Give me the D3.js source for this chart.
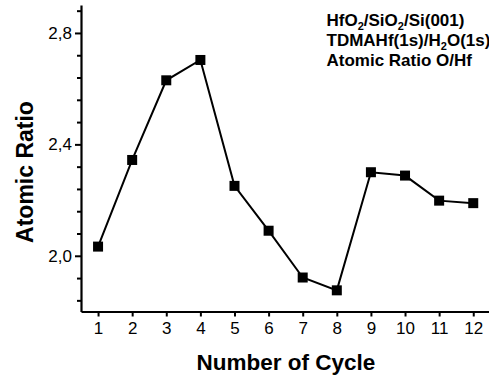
<!DOCTYPE html>
<html>
<head>
<meta charset="utf-8">
<script src="https://cdn.jsdelivr.net/npm/d3@7"></script>
<style>
  html, body { margin: 0; padding: 0; background: #fff; }
  svg { display: block; font-family: "Liberation Sans", Arial, sans-serif; }
</style>
</head>
<body>
<svg id="chart" width="489" height="378"></svg>
<script>
// O/Hf atomic ratio per ALD cycle
const cycles = [1, 2, 3, 4, 5, 6, 7, 8, 9, 10, 11, 12];
const ratios = [2.033, 2.344, 2.630, 2.703, 2.251, 2.090, 1.922, 1.876, 2.300, 2.288, 2.198, 2.189];
const yMajorTicks = [2.0, 2.4, 2.8];
const yTickLabels = ["2,0", "2,4", "2,8"];
// legend lines: [text, isSubscript]
const legendLines = [
  [["HfO", false], ["2", true], ["/SiO", false], ["2", true], ["/Si(001)", false]],
  [["TDMAHf(1s)/H", false], ["2", true], ["O(1s)", false]],
  [["Atomic Ratio O/Hf", false]]
];

const svg = d3.select("#chart");
const axisX = 81, axisY = 311.5;

const x = d3.scaleLinear().domain([0.5, 12.5]).range([axisX, 490.3]);
const y = d3.scaleLinear().domain([1.8, 2.9]).range([axisY, 5.1]);

// y axis: major ticks every 0.4, minor every 0.08
const yMinor = d3.range(1.84, 2.9, 0.08).map(v => +v.toFixed(2))
  .filter(v => !yMajorTicks.some(m => Math.abs(m - v) < 1e-6));

const yAxis = d3.axisLeft(y).tickValues(yMajorTicks)
  .tickFormat((d, i) => yTickLabels[i]).tickSize(6).tickSizeOuter(0).tickPadding(3);
const gy = svg.append("g").attr("transform", `translate(${axisX},0)`).call(yAxis);
gy.selectAll(".tick line").attr("stroke-width", 2);
gy.selectAll(".tick text").attr("font-size", 17).attr("fill", "#000")
  .attr("font-family", "Liberation Sans, Arial, sans-serif");
gy.select(".domain").attr("stroke-width", 2.2);

const gyMinor = svg.append("g").attr("transform", `translate(${axisX},0)`)
  .call(d3.axisLeft(y).tickValues(yMinor).tickFormat("").tickSize(4).tickSizeOuter(0));
gyMinor.select(".domain").remove();
gyMinor.selectAll(".tick line").attr("stroke-width", 2);

// x axis
const xAxis = d3.axisBottom(x).tickValues(cycles).tickFormat(d3.format("d"))
  .tickSize(5).tickSizeOuter(0).tickPadding(5);
const gx = svg.append("g").attr("transform", `translate(0,${axisY})`).call(xAxis);
gx.selectAll(".tick line").attr("stroke-width", 2);
gx.selectAll(".tick text").attr("font-size", 17).attr("fill", "#000")
  .attr("font-family", "Liberation Sans, Arial, sans-serif");
gx.select(".domain").attr("stroke-width", 2.2);

// data line and square markers
const line = d3.line().x((d, i) => x(cycles[i])).y(d => y(d));
svg.append("path").datum(ratios).attr("d", line)
  .attr("fill", "none").attr("stroke", "#000").attr("stroke-width", 2);

const ms = 10;
svg.append("g").selectAll("rect").data(ratios).join("rect")
  .attr("x", (d, i) => x(cycles[i]) - ms / 2)
  .attr("y", d => y(d) - ms / 2)
  .attr("width", ms).attr("height", ms)
  .attr("fill", "#000");

// axis titles
svg.append("text")
  .attr("x", 286).attr("y", 370)
  .attr("text-anchor", "middle")
  .attr("font-size", 22.5).attr("font-weight", "bold")
  .text("Number of Cycle");

svg.append("text")
  .attr("transform", "translate(33,172) rotate(-90)")
  .attr("text-anchor", "middle")
  .attr("font-size", 23).attr("font-weight", "bold")
  .text("Atomic Ratio");

// legend text with subscripts
const subShift = 4;
const lg = svg.append("g").attr("font-weight", "bold").attr("font-size", 17);
legendLines.forEach((parts, li) => {
  const t = lg.append("text").attr("x", 326.5).attr("y", 26 + li * 20);
  let lowered = false;
  parts.forEach(([s, sub]) => {
    const ts = t.append("tspan").text(s);
    if (sub) {
      ts.attr("font-size", 11).attr("dy", lowered ? 0 : subShift);
      lowered = true;
    } else if (lowered) {
      ts.attr("dy", -subShift);
      lowered = false;
    }
  });
});
</script>
</body>
</html>
